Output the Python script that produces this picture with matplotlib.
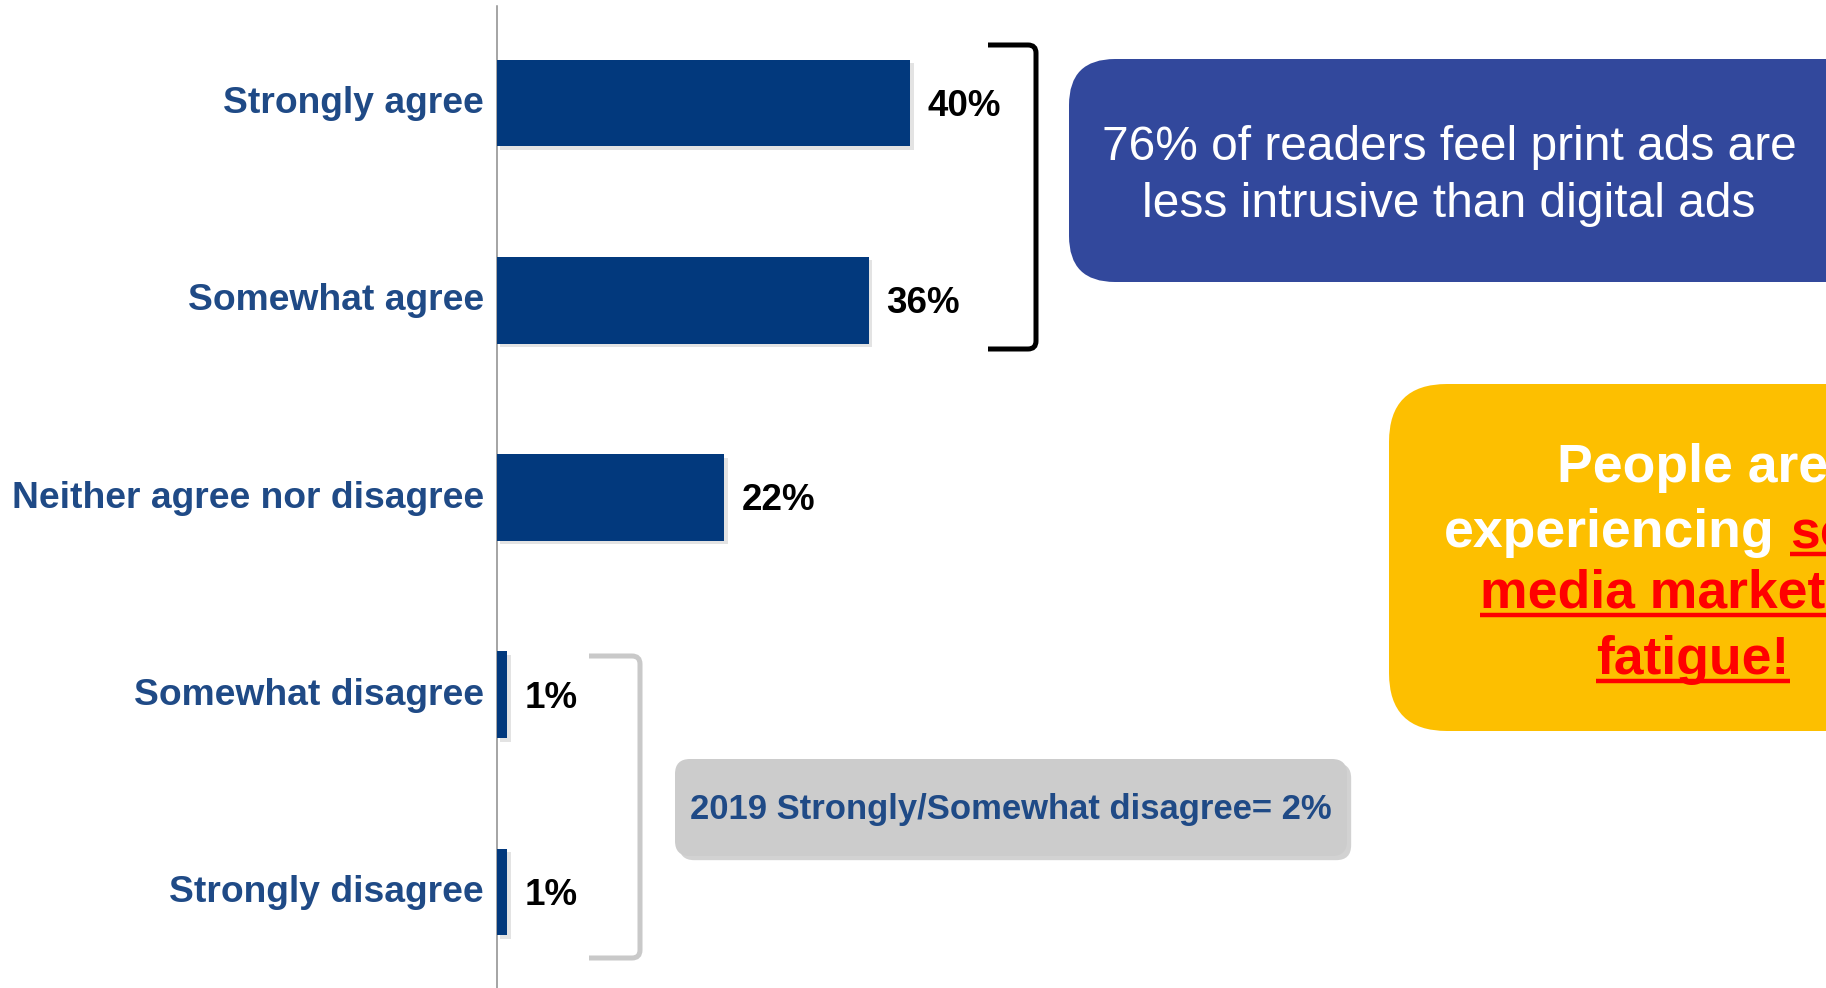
import matplotlib
matplotlib.use("Agg")
import matplotlib.pyplot as plt
import matplotlib.patheffects as pe
from matplotlib.patches import FancyBboxPatch, PathPatch
from matplotlib.path import Path
from matplotlib.transforms import Affine2D, ScaledTranslation
from matplotlib.lines import Line2D

# Survey responses
categories = ["Strongly agree", "Somewhat agree", "Neither agree nor disagree",
              "Somewhat disagree", "Strongly disagree"]
values = [40, 36, 22, 1, 1]
value_labels = ["40%", "36%", "22%", "1%", "1%"]

callout_main = ["76% of readers feel print ads are", "less intrusive than digital ads"]
callout_2019 = "2019 Strongly/Somewhat disagree= 2%"

plt.rcParams["font.family"] = ["Liberation Sans", "DejaVu Sans"]

BAR = "#02397D"
LABEL = "#1F4A86"
BLUE_BOX = "#32489C"
YELLOW = "#FDBF00"
RED = "#FF0000"
GRAY_BOX = "#CCCCCC"

W, H, DPI = 1826, 988, 100
fig = plt.figure(figsize=(W / DPI, H / DPI), dpi=DPI)
# pixel coordinates measured from the top-left corner
px = Affine2D().scale(1 / DPI, -1 / DPI).translate(0, H / DPI) + fig.dpi_scale_trans

ax = fig.add_axes([497 / W, 0, 1 - 497 / W, 1 - 6 / H])
ypos = list(range(len(categories)))
shadow = [pe.SimplePatchShadow(offset=(2.5, -2.5), shadow_rgbFace="#909090", alpha=0.25), pe.Normal()]
ax.barh(ypos, values, height=0.44, color=BAR, path_effects=shadow, zorder=3)
ax.set_xlim(0, 128.65)
ax.set_ylim(4.487, -0.492)

for i, (v, lbl) in enumerate(zip(values, value_labels)):
    ax.annotate(lbl, (v, i), xytext=(12.5, -2.5), textcoords="offset points",
                ha="left", va="center", fontsize=26.5, fontweight="bold", color="black")

ax.set_yticks(ypos)
ax.set_yticklabels(categories, fontsize=26.8, fontweight="bold", color=LABEL)
ax.tick_params(axis="y", length=0, pad=9.4)
lift = ScaledTranslation(0, 2.5 / 72, fig.dpi_scale_trans)
for lab in ax.get_yticklabels():
    lab.set_transform(lab.get_transform() + lift)
ax.set_xticks([])
for s in ["top", "right", "bottom"]:
    ax.spines[s].set_visible(False)
ax.spines["left"].set_color("#8C8C8C")
ax.spines["left"].set_linewidth(1.1)


def bracket(x_left, x_right, y_top, y_bot, color, lw, r=8):
    verts = [(x_left, y_top), (x_right - r, y_top), (x_right, y_top), (x_right, y_top + r),
             (x_right, y_bot - r), (x_right, y_bot), (x_right - r, y_bot), (x_left, y_bot)]
    codes = [Path.MOVETO, Path.LINETO, Path.CURVE3, Path.CURVE3,
             Path.LINETO, Path.CURVE3, Path.CURVE3, Path.LINETO]
    fig.add_artist(PathPatch(Path(verts, codes), fill=False, edgecolor=color,
                             linewidth=lw, transform=px, capstyle="butt"))


bracket(988, 1036, 45, 349, "black", 3.6)
bracket(589, 640, 656, 958, "#C9C9C9", 3.6)

# Blue callout
fig.add_artist(FancyBboxPatch((1069, 59), 900, 223,
                              boxstyle="round,pad=0,rounding_size=46",
                              facecolor=BLUE_BOX, edgecolor="none", transform=px))
fig.text(1449, 160, callout_main[0], transform=px, ha="center", va="baseline",
         fontsize=34.5, color="white")
fig.text(1449, 217, callout_main[1], transform=px, ha="center", va="baseline",
         fontsize=34.5, color="white")

# Gray 2019 note
fig.add_artist(FancyBboxPatch((675, 759), 672, 97,
                              boxstyle="round,pad=0,rounding_size=15",
                              facecolor=GRAY_BOX, edgecolor="none", transform=px,
                              path_effects=[pe.SimplePatchShadow(offset=(3, -3), shadow_rgbFace="#909090", alpha=0.4), pe.Normal()]))
fig.text(1011, 819, callout_2019, transform=px, ha="center", va="baseline",
         fontsize=24.9, fontweight="bold", color=LABEL)

# Yellow callout with mixed white / red underlined text
fig.add_artist(FancyBboxPatch((1389, 384), 700, 347,
                              boxstyle="round,pad=0,rounding_size=58",
                              facecolor=YELLOW, edgecolor="none", transform=px))

renderer = fig.canvas.get_renderer()
CX = 1693
YSIZE = 38.5
kw = dict(transform=px, va="baseline", fontsize=YSIZE, fontweight="bold")


def underline(t, y):
    bb = t.get_window_extent(renderer)
    fig.add_artist(Line2D([bb.x0 / DPI, bb.x1 / DPI], [(H - y) / DPI] * 2,
                          transform=fig.dpi_scale_trans, color=RED, linewidth=3.2,
                          solid_capstyle="butt"))


fig.text(CX, 482, "People are", ha="center", color="white", **kw)

# measure the whole second line, then place its white and red parts at its ends
probe = fig.text(CX, 547, "experiencing social", ha="center", color="none", **kw)
bb = probe.get_window_extent(renderer)
left, right = bb.x0, bb.x1
probe.remove()
inch = dict(transform=fig.dpi_scale_trans, va="baseline", fontsize=YSIZE, fontweight="bold")
fig.text(left / DPI, (H - 547) / DPI, "experiencing", ha="left", color="white", **inch)
t_red = fig.text(right / DPI, (H - 547) / DPI, "social", ha="right", color=RED, **inch)
underline(t_red, 554)

t3 = fig.text(CX, 608, "media marketing", ha="center", color=RED, **kw)
underline(t3, 615)
t4 = fig.text(CX, 674, "fatigue!", ha="center", color=RED, **kw)
underline(t4, 681)

fig.savefig("out.png", dpi=DPI)
